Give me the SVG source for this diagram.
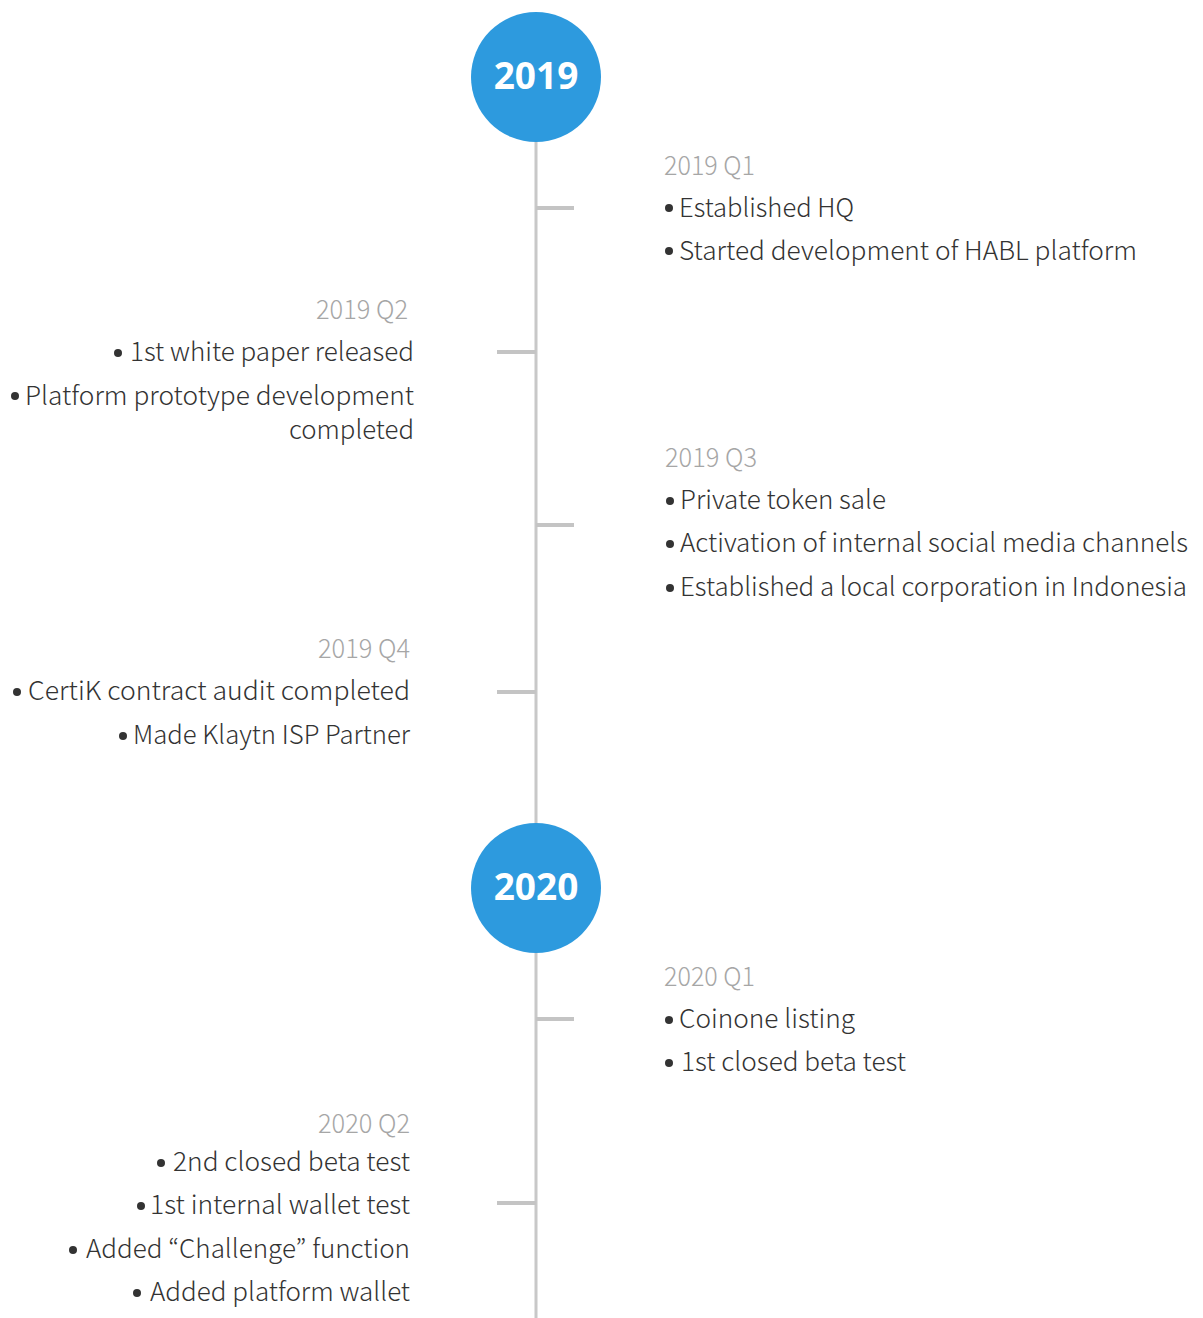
<svg xmlns="http://www.w3.org/2000/svg" width="1203" height="1318" viewBox="0 0 1203 1318">
  <style>
    .spine { stroke: #c8c8c8; stroke-width: 3; fill: none; }
    .tick { stroke: #c4c4c4; stroke-width: 4; }
    .year { fill: #2d9ade; }
    .yeartxt { font-family: "Open Sans", "Noto Sans", sans-serif; font-weight: 700; font-size: 37px; fill: #ffffff; text-anchor: middle; }
    .q { font-family: "Noto Sans CJK KR", "Noto Sans", sans-serif; font-weight: 300; font-size: 26px; fill: #a6a6a6; }
    .item { font-family: "Noto Sans CJK KR", "Noto Sans", sans-serif; font-weight: 300; font-size: 26px; fill: #333333; }
    .dot { fill: #333333; }
  </style>
  <rect width="1203" height="1318" fill="#ffffff"/>

  <!-- timeline spine and quarter ticks -->
  <g id="connectors">
    <line class="spine" x1="536" y1="140" x2="536" y2="1318"/>
    <line class="tick" x1="536" y1="208" x2="574" y2="208"/>
    <line class="tick" x1="497" y1="352" x2="536" y2="352"/>
    <line class="tick" x1="536" y1="525" x2="574" y2="525"/>
    <line class="tick" x1="497" y1="692" x2="536" y2="692"/>
    <line class="tick" x1="536" y1="1019" x2="574" y2="1019"/>
    <line class="tick" x1="497" y1="1203" x2="536" y2="1203"/>
  </g>

  <!-- year markers -->
  <g id="year-2019">
    <circle class="year" cx="536" cy="77" r="65"/>
    <text class="yeartxt" x="536" y="89">2019</text>
  </g>
  <g id="year-2020">
    <circle class="year" cx="536" cy="888" r="65"/>
    <text class="yeartxt" x="536" y="900">2020</text>
  </g>

  <!-- 2019 Q1 -->
  <g id="q1-2019">
    <text class="q" x="664" y="175" textLength="91" lengthAdjust="spacingAndGlyphs">2019 Q1</text>
    <circle class="dot" cx="669" cy="208" r="4"/>
    <text class="item" x="679" y="217" textLength="175" lengthAdjust="spacingAndGlyphs">Established HQ</text>
    <circle class="dot" cx="669" cy="251" r="4"/>
    <text class="item" x="679" y="260" textLength="458" lengthAdjust="spacingAndGlyphs">Started development of HABL platform</text>
  </g>

  <!-- 2019 Q2 -->
  <g id="q2-2019">
    <text class="q" x="316" y="319" textLength="92" lengthAdjust="spacingAndGlyphs">2019 Q2</text>
    <circle class="dot" cx="118" cy="353" r="4"/>
    <text class="item" x="130" y="361" textLength="284" lengthAdjust="spacingAndGlyphs">1st white paper released</text>
    <circle class="dot" cx="15" cy="396" r="4"/>
    <text class="item" x="25" y="405" textLength="389" lengthAdjust="spacingAndGlyphs">Platform prototype development</text>
    <text class="item" x="289" y="439" textLength="125" lengthAdjust="spacingAndGlyphs">completed</text>
  </g>

  <!-- 2019 Q3 -->
  <g id="q3-2019">
    <text class="q" x="665" y="467" textLength="92" lengthAdjust="spacingAndGlyphs">2019 Q3</text>
    <circle class="dot" cx="670" cy="501" r="4"/>
    <text class="item" x="680" y="509" textLength="206" lengthAdjust="spacingAndGlyphs">Private token sale</text>
    <circle class="dot" cx="670" cy="544" r="4"/>
    <text class="item" x="680" y="552" textLength="508" lengthAdjust="spacingAndGlyphs">Activation of internal social media channels</text>
    <circle class="dot" cx="670" cy="588" r="4"/>
    <text class="item" x="680" y="596" textLength="507" lengthAdjust="spacingAndGlyphs">Established a local corporation in Indonesia</text>
  </g>

  <!-- 2019 Q4 -->
  <g id="q4-2019">
    <text class="q" x="318" y="658" textLength="92" lengthAdjust="spacingAndGlyphs">2019 Q4</text>
    <circle class="dot" cx="17" cy="692" r="4"/>
    <text class="item" x="28" y="700" textLength="382" lengthAdjust="spacingAndGlyphs">CertiK contract audit completed</text>
    <circle class="dot" cx="123" cy="736" r="4"/>
    <text class="item" x="133" y="744" textLength="277" lengthAdjust="spacingAndGlyphs">Made Klaytn ISP Partner</text>
  </g>

  <!-- 2020 Q1 -->
  <g id="q1-2020">
    <text class="q" x="664" y="986" textLength="91" lengthAdjust="spacingAndGlyphs">2020 Q1</text>
    <circle class="dot" cx="669" cy="1020" r="4"/>
    <text class="item" x="679" y="1028" textLength="176" lengthAdjust="spacingAndGlyphs">Coinone listing</text>
    <circle class="dot" cx="669" cy="1063" r="4"/>
    <text class="item" x="681" y="1071" textLength="225" lengthAdjust="spacingAndGlyphs">1st closed beta test</text>
  </g>

  <!-- 2020 Q2 -->
  <g id="q2-2020">
    <text class="q" x="318" y="1133" textLength="92" lengthAdjust="spacingAndGlyphs">2020 Q2</text>
    <circle class="dot" cx="161" cy="1163" r="4"/>
    <text class="item" x="173" y="1171" textLength="237" lengthAdjust="spacingAndGlyphs">2nd closed beta test</text>
    <circle class="dot" cx="141" cy="1206" r="4"/>
    <text class="item" x="150" y="1214" textLength="260" lengthAdjust="spacingAndGlyphs">1st internal wallet test</text>
    <circle class="dot" cx="73" cy="1250" r="4"/>
    <text class="item" x="86" y="1258" textLength="324" lengthAdjust="spacingAndGlyphs">Added “Challenge” function</text>
    <circle class="dot" cx="137" cy="1293" r="4"/>
    <text class="item" x="150" y="1301" textLength="260" lengthAdjust="spacingAndGlyphs">Added platform wallet</text>
  </g>
</svg>
